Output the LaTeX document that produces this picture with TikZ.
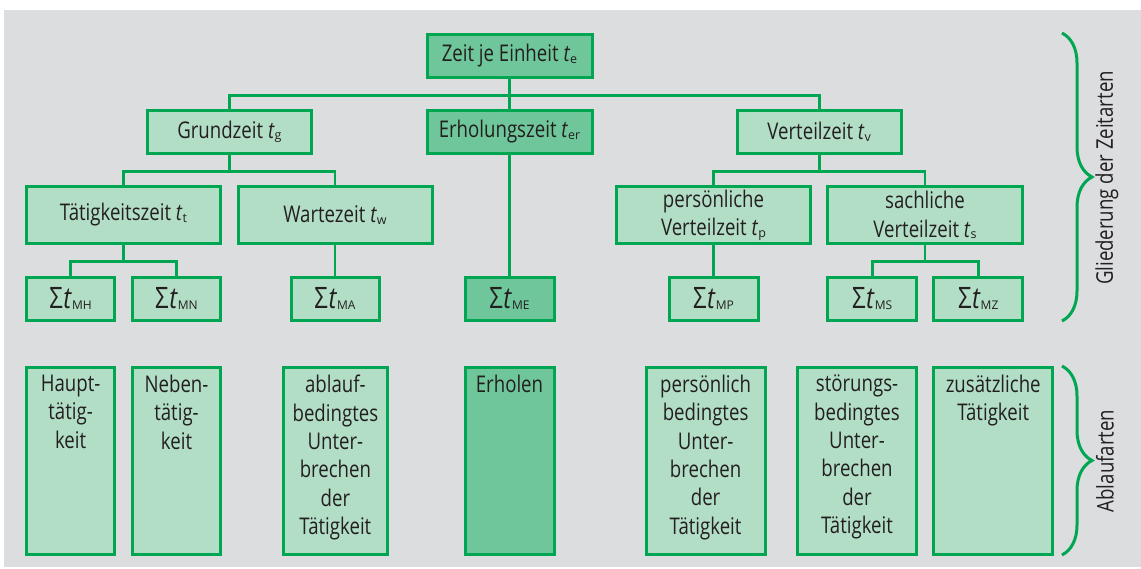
\documentclass[tikz,border=0pt]{standalone}
\usepackage{fontspec}
\setmainfont[FakeStretch=0.81]{Open Sans}
\newfontfamily\indexfont{Open Sans}
\usetikzlibrary{calc,decorations.pathreplacing}

\definecolor{zgray}{HTML}{DCDDDE}
\definecolor{zgreen}{HTML}{00A651}
\definecolor{zlight}{HTML}{B3DEC6}
\definecolor{zdark}{HTML}{6FC69A}
\definecolor{ztext}{HTML}{231F20}

\newcommand\zt[1]{\textit{t}\raisebox{-1.5pt}{\indexfont\fontsize{12.5}{12.5}\selectfont #1}}
\newcommand\zsum[1]{{\fontsize{29.5}{29.5}\selectfont Σ\kern0.5pt\textit{t}}\raisebox{-1pt}{\indexfont\fontsize{12}{12}\selectfont #1}}
\newcommand\stapel[2]{\parbox[c][171pt][t]{#1}{\centering #2}}

\begin{document}
\begin{tikzpicture}[x=1pt,y=-1pt,
  font=\fontsize{23}{28.3}\selectfont,
  kasten/.style={draw=zgreen, line width=3pt, fill=zlight, text=ztext,
    inner sep=0pt, align=center, minimum height=43.5pt},
  kastendunkel/.style={kasten, fill=zdark},
  ablauf/.style={kasten, inner ysep=8pt, minimum height=187pt},
  linie/.style={draw=zgreen, line width=2.8pt},
  klammer/.style={draw=zgreen, line width=3pt, decorate,
    decoration={brace, amplitude=30pt}}]
 \useasboundingbox (0,0) rectangle (1141,568);
 \fill[zgray] (4,10) rectangle (1141,567);
 % Zeitarten
 \node[kastendunkel, minimum width=165pt] (zeit) at (509.5,56) {Zeit je Einheit \zt{e}};
 \node[kasten, minimum width=164pt] (grund) at (229.4,131.8) {Grundzeit \zt{g}};
 \node[kastendunkel, minimum width=165pt] (erhol) at (509.5,131.8) {Erholungszeit \zt{er}};
 \node[kasten, minimum width=164pt] (verteil) at (819.2,131.8) {Verteilzeit \zt{v}};
 \node[kasten, minimum width=194pt, minimum height=57.6pt] (taetig) at (123.5,215) {Tätigkeitszeit \zt{t}};
 \node[kasten, minimum width=194pt, minimum height=57.6pt] (warte) at (335,215) {Wartezeit \zt{w}};
 \node[kasten, minimum width=194.5pt, minimum height=57.6pt] (perst) at (713.5,215) {persönliche\\Verteilzeit \zt{p}};
 \node[kasten, minimum width=195pt, minimum height=57.6pt] (sachv) at (925,215) {sachliche\\Verteilzeit \zt{s}};
 \node[kasten, minimum width=88.4pt, minimum height=43pt] (mh) at (70.6,298.7) {\zsum{MH}};
 \node[kasten, minimum width=88pt, minimum height=43pt] (mn) at (176.5,298.7) {\zsum{MN}};
 \node[kasten, minimum width=88pt, minimum height=43pt] (ma) at (335,298.7) {\zsum{MA}};
 \node[kastendunkel, minimum width=89pt, minimum height=43pt] (me) at (509.5,298.7) {\zsum{ME}};
 \node[kasten, minimum width=89pt, minimum height=43pt] (mp) at (713.5,298.7) {\zsum{MP}};
 \node[kasten, minimum width=89pt, minimum height=43pt] (ms) at (872.2,298.7) {\zsum{MS}};
 \node[kasten, minimum width=88.5pt, minimum height=43pt] (mz) at (978.2,298.7) {\zsum{MZ}};
 % Ablaufarten
 \node[ablauf, minimum width=88.4pt] (haupt) at (70.6,460.7) {\stapel{84pt}{Haupt-\\tätig-\\keit}};
 \node[ablauf, minimum width=88pt] (neben) at (176.5,460.7) {\stapel{84pt}{Neben-\\tätig-\\keit}};
 \node[ablauf, minimum width=103.8pt] (ablaufbed) at (335.4,460.7) {\stapel{100pt}{ablauf-\\bedingtes\\Unter-\\brechen\\der\\Tätigkeit}};
 \node[ablauf, fill=zdark, minimum width=89pt] (erholen) at (509.5,460.7) {\stapel{84pt}{Erholen}};
 \node[ablauf, minimum width=119pt] (persbed) at (705.6,460.7) {\stapel{114pt}{persönlich\\bedingtes\\Unter-\\brechen\\der\\Tätigkeit}};
 \node[ablauf, minimum width=119.7pt] (stoer) at (857,460.7) {\stapel{114pt}{störungs-\\bedingtes\\Unter-\\brechen\\der\\Tätigkeit}};
 \node[ablauf, minimum width=119.3pt] (zusatz) at (993.2,460.7) {\stapel{114pt}{zusätzliche\\Tätigkeit}};
 % Verbindungen
 \draw[linie] (zeit.south) -- ++(0,16.2) coordinate (zbus) -- (erhol.north);
 \draw[linie] (grund.north) |- (zbus) -| (verteil.north);
 \draw[linie] (grund.south) -- ++(0,16.3) coordinate (gbus);
 \draw[linie] (taetig.north) |- (gbus) -| (warte.north);
 \draw[linie] (verteil.south) -- ++(0,16.3) coordinate (vbus);
 \draw[linie] (perst.north) |- (vbus) -| (sachv.north);
 \draw[linie] (taetig.south) -- ++(0,16.2) coordinate (tbus);
 \draw[linie] (mh.north) |- (tbus) -| (mn.north);
 \draw[linie] (warte) -- (ma);
 \draw[linie] (erhol) -- (me);
 \draw[linie] (perst) -- (mp);
 \draw[linie] (sachv.south) -- ++(0,16.2) coordinate (sbus);
 \draw[linie] (ms.north) |- (sbus) -| (mz.north);
 % Klammern
 \draw[klammer] (1062,33) -- (1062,321);
 \draw[klammer] (1062,366) -- (1062,555);
 \node[text=ztext, rotate=90] (gliederung) at (1107,178) {Gliederung der Zeitarten};
 \node[text=ztext, rotate=90] (ablaufarten) at (1105,461) {Ablaufarten};
\end{tikzpicture}
\end{document}
